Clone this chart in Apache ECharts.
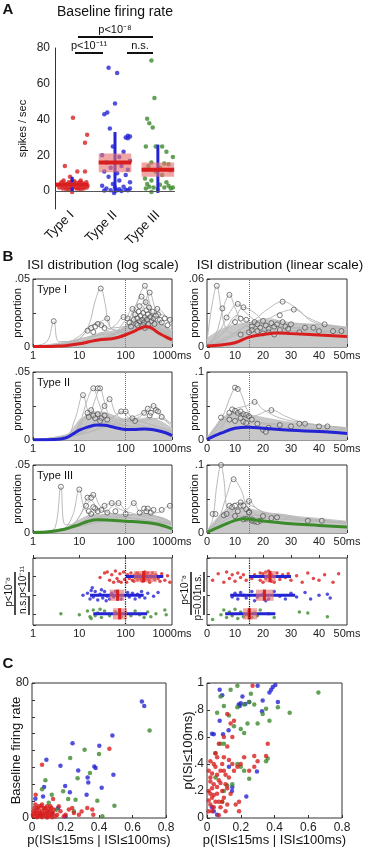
<!DOCTYPE html>
<html>
<head>
<meta charset="utf-8">
<script src="https://cdn.jsdelivr.net/npm/echarts@6/dist/echarts.min.js"></script>
<style>
  html, body { margin: 0; padding: 0; background: #fff; }
  #chart { width: 366px; height: 850px; }
</style>
</head>
<body>
<div id="chart"></div>
<script>
const FONT = '"Liberation Sans", Arial, sans-serif';
const RED = '#d81e1e', BLUE = '#2424d4', GREEN = '#3c8a2c';
const GRAY = '#b9b9b9', BAND = '#c8c8c8', RING = '#4a4a4a';
const BOXFILL = 'rgba(232,112,112,0.62)';

// ---- A: baseline firing rate ----
const typeLabels = ['Type I', 'Type II', 'Type III'];
const rateTypeI = [[1.02,41],[1.35,31.5],[1.3,27],[0.83,14],[1.12,11],[1.3,11],[0.95,8],[1.0,6],[0.75,5],[0.8,4.5],[0.85,3],[0.9,2],[0.92,5],[0.97,3.5],[1.03,2.5],[1.06,4],[1.1,1.5],[1.14,3],[1.18,5],[1.22,2.5],[1.26,3.5],[1.3,4],[1.34,2],[0.78,1.5],[0.82,2.5],[0.88,4],[0.93,1],[0.98,2],[1.05,5.5],[1.08,3],[1.12,2],[1.16,4.5],[1.2,1],[1.24,3],[1.28,2.5],[1.32,3.5],[0.76,3],[0.86,1],[0.9,3.5],[0.96,4.5],[1.0,1.5],[1.04,3.5],[1.1,4.5],[1.15,1.5],[1.19,3.5],[1.23,4.5],[1.27,1.5],[1.33,5],[0.8,6],[1.0,-0.5],[1.2,6],[0.7,2],[0.72,4],[1.36,3]];
const rateTypeII = [[1.85,69],[2.05,66],[2.0,49],[1.75,43],[1.82,44],[1.88,35],[2.3,31],[2.35,30.5],[2.25,30],[2.3,29.5],[1.95,25],[2.2,22],[1.7,20],[2.1,19],[2.35,17],[1.8,16],[2.15,14],[1.9,13],[2.3,12],[1.75,11],[2.05,10],[2.25,9],[1.85,8],[2.1,6],[2.35,5],[1.95,4],[1.7,3],[2.2,2.5],[2.0,2],[2.35,1.5],[1.8,1.5],[2.1,1],[2.25,0.8],[1.9,0.5],[2.3,0.5],[1.75,0.3],[2.05,0.5],[2.15,0],[1.98,-1]];
const rateTypeIII = [[2.85,73],[2.92,52],[2.75,40.5],[2.8,38],[2.88,35.5],[2.95,25],[2.72,25],[3.1,25],[3.2,22],[3.35,19],[2.85,16],[3.15,15.5],[3.25,15],[2.78,14],[3.05,13],[2.7,12],[3.3,11.5],[2.95,11],[3.1,9],[2.7,7],[2.85,6],[3.2,5],[2.75,4],[3.05,3.5],[3.25,3],[2.8,2.5],[3.35,2],[2.9,2],[3.15,2],[3.3,1.5],[2.72,1.5],[3.0,1],[2.85,-0.5]];
// [type, q1, median, q3, whisker low, whisker high]
const rateBoxes = [[1,2.2,3.5,4.8,-0.5,8],[2,10.5,16,21,-1,33],[3,8,12,16,-1,26]];

// ---- B: ISI distributions (log scale) ----
const bandLogI = [[1,0.001],[2,0.002],[3,0.003],[5,0.004],[10,0.006],[20,0.009],[30,0.011],[50,0.012],[70,0.013],[100,0.016],[150,0.019],[200,0.021],[300,0.022],[500,0.019],[700,0.016],[1000,0.013]];
const grayLogI = [
  [[1,0.001],[2,0.004],[2.8,0.019],[3.6,0.004],[6,0.004],[10,0.006],[30,0.009],[100,0.011],[300,0.013],[1000,0.008]],
  [[1,0],[5,0.002],[10,0.006],[16,0.016],[22,0.034],[29,0.043],[36,0.032],[45,0.015],[70,0.012],[150,0.014],[400,0.012],[1000,0.008]],
  [[1,0],[5,0.003],[10,0.008],[18,0.016],[30,0.019],[40,0.021],[50,0.014],[100,0.015],[300,0.016],[1000,0.01]],
  [[1,0],[10,0.003],[40,0.008],[100,0.014],[150,0.025],[210,0.04],[260,0.045],[320,0.034],[450,0.018],[1000,0.008]],
  [[1,0],[10,0.003],[50,0.008],[100,0.016],[160,0.03],[220,0.037],[300,0.028],[500,0.014],[1000,0.007]],
  [[1,0],[10,0.002],[60,0.01],[130,0.018],[220,0.026],[330,0.04],[420,0.03],[600,0.018],[1000,0.01]],
  [[1,0],[10,0.003],[50,0.009],[100,0.02],[140,0.028],[200,0.022],[400,0.015],[1000,0.008]],
  [[1,0],[20,0.005],[100,0.012],[300,0.02],[480,0.028],[650,0.025],[1000,0.014]],
  [[1,0],[20,0.004],[100,0.014],[250,0.022],[500,0.024],[800,0.022],[1000,0.018]],
  [[1,0],[8,0.004],[15,0.012],[25,0.017],[40,0.014],[80,0.012],[200,0.018],[600,0.012],[1000,0.008]],
  [[1,0],[10,0.004],[30,0.01],[60,0.016],[90,0.022],[130,0.02],[300,0.016],[1000,0.01]],
  [[1,0],[30,0.006],[120,0.016],[200,0.03],[270,0.033],[400,0.022],[700,0.014],[1000,0.011]]
];
const ringsLogI = [[2.8,0.019],[29,0.043],[40,0.021],[260,0.045],[220,0.037],[330,0.04],[140,0.028],[480,0.028],[500,0.024],[25,0.017],[90,0.022],[270,0.033],[15,0.012],[18,0.014],[22,0.015],[30,0.016],[35,0.014],[20,0.011],[120,0.018],[150,0.02],[160,0.024],[170,0.017],[180,0.021],[190,0.026],[200,0.019],[210,0.023],[230,0.02],[240,0.025],[250,0.018],[260,0.022],[280,0.027],[290,0.02],[300,0.024],[310,0.017],[340,0.022],[360,0.019],[380,0.026],[400,0.021],[420,0.017],[450,0.023],[550,0.02],[600,0.018],[700,0.021],[800,0.016],[900,0.02],[130,0.015],[110,0.021],[240,0.016],[320,0.029],[200,0.03],[180,0.016],[260,0.014]];
const meanLogI = [[1,0.0003],[2,0.0004],[3,0.0006],[5,0.001],[10,0.0024],[20,0.0045],[30,0.0055],[50,0.006],[70,0.0072],[100,0.009],[150,0.0115],[200,0.0135],[270,0.0148],[350,0.0142],[500,0.0105],[700,0.0078],[1000,0.0052]];

const bandLogII = [[1,0],[3,0.0005],[5,0.003],[7,0.008],[10,0.015],[15,0.019],[20,0.021],[30,0.021],[50,0.019],[70,0.017],[100,0.016],[200,0.016],[300,0.017],[500,0.015],[1000,0.009]];
const grayLogII = [
  [[1,0],[5,0.002],[8,0.015],[12,0.033],[16,0.02],[25,0.014],[60,0.012],[150,0.01],[1000,0.005]],
  [[1,0],[6,0.002],[10,0.012],[15,0.03],[20,0.038],[26,0.028],[40,0.014],[100,0.01],[1000,0.005]],
  [[1,0],[8,0.003],[15,0.014],[22,0.03],[28,0.038],[35,0.028],[50,0.015],[150,0.01],[1000,0.006]],
  [[1,0],[10,0.004],[20,0.012],[35,0.025],[45,0.03],[60,0.02],[100,0.014],[1000,0.006]],
  [[1,0],[10,0.004],[30,0.01],[60,0.018],[80,0.021],[120,0.016],[300,0.012],[1000,0.006]],
  [[1,0],[10,0.004],[40,0.01],[100,0.014],[200,0.017],[300,0.023],[400,0.025],[550,0.018],[1000,0.01]],
  [[1,0],[10,0.005],[30,0.012],[100,0.015],[250,0.02],[450,0.022],[700,0.016],[1000,0.011]],
  [[1,0],[7,0.004],[12,0.015],[18,0.022],[25,0.019],[40,0.016],[100,0.021],[140,0.016],[300,0.012],[1000,0.007]],
  [[1,0],[8,0.006],[15,0.017],[30,0.02],[60,0.015],[200,0.014],[500,0.016],[1000,0.012]]
];
const ringsLogII = [[12,0.033],[20,0.038],[25,0.038],[28,0.038],[45,0.03],[35,0.025],[80,0.021],[100,0.021],[300,0.023],[400,0.025],[450,0.022],[500,0.021],[18,0.022],[16,0.017],[20,0.018],[22,0.016],[25,0.019],[30,0.016],[35,0.018],[40,0.015],[15,0.02],[140,0.016],[160,0.014],[250,0.02],[330,0.018],[350,0.02],[600,0.017],[28,0.014]];
const meanLogII = [[1,0.0002],[3,0.0004],[5,0.0015],[7,0.004],[10,0.0072],[15,0.0095],[25,0.011],[35,0.0108],[50,0.0098],[70,0.0086],[100,0.0078],[150,0.0078],[250,0.0081],[400,0.0075],[700,0.0055],[1000,0.0032]];

const bandLogIII = [[1,0.0005],[2,0.001],[3,0.002],[5,0.004],[7,0.007],[10,0.01],[15,0.013],[20,0.014],[30,0.014],[50,0.014],[100,0.014],[200,0.014],[400,0.013],[700,0.011],[1000,0.008]];
const grayLogIII = [
  [[1,0],[2,0.001],[3,0.004],[4,0.034],[5,0.006],[8,0.006],[15,0.01],[50,0.012],[200,0.01],[1000,0.006]],
  [[1,0],[4,0.002],[7,0.012],[10,0.032],[13,0.018],[20,0.013],[50,0.012],[200,0.01],[1000,0.006]],
  [[1,0],[5,0.003],[10,0.012],[15,0.026],[20,0.028],[28,0.02],[50,0.014],[1000,0.007]],
  [[1,0],[8,0.004],[20,0.014],[40,0.021],[50,0.022],[70,0.018],[200,0.013],[1000,0.007]],
  [[1,0],[10,0.005],[30,0.012],[70,0.022],[100,0.017],[150,0.022],[200,0.016],[500,0.012],[1000,0.008]],
  [[1,0],[10,0.005],[50,0.01],[200,0.014],[500,0.015],[900,0.02],[1000,0.018]],
  [[1,0],[6,0.004],[14,0.02],[18,0.024],[25,0.018],[60,0.014],[300,0.013],[1000,0.007]]
];
const ringsLogIII = [[4,0.034],[10,0.032],[15,0.026],[18,0.026],[20,0.028],[50,0.022],[70,0.022],[150,0.022],[900,0.02],[14,0.02],[16,0.016],[18,0.014],[22,0.018],[25,0.016],[30,0.017],[40,0.015],[60,0.016],[100,0.014],[200,0.015],[250,0.018],[280,0.016],[300,0.018],[350,0.015],[400,0.017],[600,0.017],[20,0.019],[35,0.02]];
const meanLogIII = [[1,0.0003],[2,0.0008],[3,0.0015],[5,0.003],[7,0.0045],[10,0.0062],[15,0.0085],[25,0.0098],[50,0.0093],[100,0.0086],[200,0.0081],[400,0.007],[700,0.005],[1000,0.003]];

// ---- B: ISI distributions (linear scale) ----
const bandLinI = [[0,0.008],[3,0.013],[6,0.017],[10,0.02],[15,0.022],[20,0.024],[25,0.024],[30,0.022],[40,0.02],[50,0.018]];
const grayLinI = [
  [[0,0.005],[2,0.04],[3.5,0.054],[5,0.035],[7,0.015],[10,0.012],[20,0.014],[50,0.012]],
  [[0,0.002],[3,0.01],[6,0.036],[8,0.046],[10,0.035],[13,0.02],[20,0.016],[50,0.013]],
  [[0,0.002],[4,0.012],[8,0.03],[11,0.038],[14,0.03],[20,0.02],[50,0.014]],
  [[0,0.002],[5,0.01],[10,0.025],[13,0.035],[17,0.03],[22,0.02],[50,0.014]],
  [[0,0.001],[5,0.004],[10,0.012],[17,0.024],[22,0.034],[27,0.04],[32,0.034],[38,0.022],[50,0.016]],
  [[0,0.001],[10,0.01],[20,0.022],[26,0.03],[31,0.033],[36,0.026],[42,0.02],[50,0.017]],
  [[0,0.002],[6,0.014],[11,0.028],[15,0.022],[25,0.018],[40,0.017],[50,0.016]],
  [[0,0.001],[8,0.01],[15,0.02],[22,0.025],[30,0.02],[40,0.02],[48,0.018],[50,0.017]]
];
const ringsLinI = [[3.5,0.054],[8,0.046],[11,0.038],[13,0.035],[27,0.04],[31,0.033],[5.5,0.034],[7,0.026],[10,0.022],[12,0.025],[14,0.024],[16,0.018],[17,0.022],[18,0.02],[19,0.017],[20,0.023],[21,0.019],[22,0.016],[23,0.021],[24,0.018],[25,0.02],[26,0.015],[27,0.022],[28,0.018],[29,0.016],[30,0.02],[16,0.015],[18,0.014],[20,0.012],[22,0.013],[24,0.011],[33,0.013],[35,0.017],[40,0.014],[45,0.014],[48,0.014],[42,0.02],[38,0.017],[15,0.013],[12,0.011],[26,0.028]];
const meanLinI = [[0,0.0009],[5,0.0018],[10,0.0037],[15,0.0087],[20,0.011],[25,0.0124],[30,0.0118],[40,0.0105],[50,0.0093]];

const bandLinII = [[0,0.005],[3,0.02],[6,0.035],[10,0.042],[15,0.038],[20,0.034],[30,0.027],[40,0.022],[50,0.018]];
const grayLinII = [
  [[0,0.003],[5,0.03],[9,0.07],[10.5,0.078],[12,0.07],[15,0.04],[20,0.025],[50,0.015]],
  [[0,0.002],[5,0.02],[10,0.045],[14,0.05],[17,0.056],[20,0.045],[28,0.03],[50,0.018]],
  [[0,0.002],[5,0.025],[10,0.04],[16,0.035],[23,0.044],[28,0.035],[35,0.025],[50,0.018]],
  [[0,0.002],[3,0.02],[6,0.033],[10,0.032],[20,0.025],[35,0.023],[43,0.02],[50,0.016]],
  [[0,0.002],[4,0.01],[8,0.035],[11,0.038],[15,0.03],[24,0.02],[50,0.013]]
];
const ringsLinII = [[10,0.077],[11,0.075],[17,0.056],[23,0.044],[5,0.033],[8,0.04],[9,0.045],[10,0.043],[11,0.04],[12,0.042],[13,0.038],[14,0.037],[15,0.035],[16,0.03],[8,0.03],[10,0.028],[12,0.032],[13,0.027],[14,0.025],[18,0.024],[20,0.015],[21,0.012],[33,0.024],[35,0.024],[30,0.02],[40,0.02],[43,0.02],[26,0.022],[22,0.018]];
const meanLinII = [[0,0.001],[5,0.01],[10,0.0173],[15,0.0188],[20,0.0173],[30,0.0144],[40,0.0124],[50,0.0095]];

const bandLinIII = [[0,0.004],[3,0.02],[6,0.032],[10,0.038],[15,0.036],[20,0.032],[30,0.026],[40,0.022],[50,0.018]];
const grayLinIII = [
  [[0,0.002],[2,0.02],[3.5,0.07],[5,0.1],[6,0.08],[7.5,0.03],[10,0.025],[20,0.022],[50,0.014]],
  [[0,0.002],[4,0.02],[7,0.055],[9.5,0.079],[12,0.065],[15,0.035],[20,0.025],[50,0.015]],
  [[0,0.002],[5,0.02],[10,0.035],[15,0.047],[18,0.035],[25,0.025],[50,0.016]],
  [[0,0.003],[5,0.025],[8,0.04],[12,0.045],[16,0.04],[22,0.028],[50,0.016]],
  [[0,0.002],[5,0.015],[10,0.025],[20,0.026],[25,0.028],[35,0.02],[41,0.018],[50,0.014]]
];
const ringsLinIII = [[5,0.1],[9.5,0.079],[15,0.047],[12,0.045],[8,0.04],[9,0.038],[10,0.04],[11,0.032],[12,0.04],[13,0.04],[14,0.035],[15,0.031],[6,0.026],[7,0.028],[2,0.028],[3,0.028],[10,0.025],[13,0.02],[14,0.021],[15,0.03],[16,0.02],[17,0.017],[18,0.016],[19,0.018],[20,0.025],[23,0.022],[25,0.023],[36,0.018],[41,0.018],[16,0.018]];
const meanLinIII = [[0,0.001],[5,0.01],[10,0.0185],[13,0.021],[15,0.0205],[20,0.0175],[30,0.0135],[40,0.0112],[50,0.0088]];

// ---- B: peak ISI per neuron (row 1 = Type I, 2 = Type II, 3 = Type III) ----
const peakLogI = [[35,0.8],[45,1.2],[50,0.9],[55,1.3],[60,0.7],[65,1.1],[70,1.25],[75,0.85],[80,1.3],[90,0.75],[95,1.15],[105,1.3],[110,0.9],[120,1.1],[130,0.8],[140,1.2],[150,0.95],[160,1.05],[170,0.85],[180,1.15],[190,1.0],[200,0.9],[210,1.1],[220,1.2],[230,0.95],[240,1.05],[250,0.85],[260,1.15],[270,1.0],[280,0.9],[300,1.1],[320,1.2],[340,0.95],[360,1.05],[380,0.8],[400,1.0],[420,1.15],[450,0.9],[500,1.1],[550,1.25],[600,0.85],[700,1.2],[800,0.95],[900,1.3],[230,1.25],[260,0.75],[300,0.8],[180,0.8],[150,1.25],[330,1.3],[40,0.75],[28,1.05]];
const peakLogII = [[15,1.9],[17,2.2],[18,1.75],[20,2.1],[22,1.8],[25,2.25],[28,1.95],[32,2.15],[35,1.8],[40,2.05],[45,2.2],[50,1.9],[55,2.1],[60,1.8],[70,2.0],[80,2.2],[110,1.85],[120,2.1],[140,1.9],[160,2.2],[180,1.95],[200,2.1],[220,1.8],[260,2.15],[300,1.9],[400,2.05],[500,1.85],[30,1.7],[38,2.3],[12,2.0],[19,1.6]];
const peakLogIII = [[4,3.0],[10,3.05],[15,2.85],[17,3.15],[20,2.8],[22,3.1],[25,2.95],[30,3.2],[35,2.85],[45,3.1],[60,2.9],[80,3.15],[100,2.95],[130,3.1],[160,2.85],[200,3.05],[250,3.2],[300,2.9],[350,3.15],[450,3.0],[700,2.8],[750,3.05],[18,3.25],[28,2.75]];
const peakLogBoxes = [[1,150,245,470,100,650],[2,45,67,93,17,245],[3,53,74,107,20,290]];

const peakLinI = [[2,1.2],[4,0.85],[6,1.3],[7,0.75],[8,1.1],[9,0.9],[10,1.25],[11,0.8],[12,1.05],[13,0.9],[14,1.2],[16,1.1],[17,0.9],[18,1.0],[19,1.2],[20,0.85],[21,1.1],[22,0.95],[23,1.25],[24,1.0],[25,0.8],[26,1.15],[27,0.9],[28,1.05],[29,0.85],[30,1.2],[32,0.95],[34,1.3],[36,0.8],[38,1.1],[40,1.2],[42,0.9],[45,1.3],[47,0.85],[20,1.3],[22,0.7],[21,0.75],[24,1.3],[19,0.8],[23,0.9]];
const peakLinII = [[9,2.1],[10,1.9],[11,2.2],[12,1.85],[13,2.0],[14,2.15],[16,1.8],[18,2.1],[20,1.95],[22,2.2],[24,1.8],[26,2.05],[28,2.2],[30,1.9],[32,2.1],[35,1.85],[37,2.2],[40,2.0],[43,1.95],[44,2.15],[17,2.3],[21,2.3]];
const peakLinIII = [[2,3.3],[5,3.05],[6,2.8],[7,3.2],[8,2.9],[9,3.1],[10,2.75],[11,3.25],[12,2.9],[13,3.15],[14,3.05],[15,2.85],[16,3.2],[17,2.95],[18,3.1],[19,2.8],[22,3.0],[24,3.2],[33,2.9],[36,2.95],[43,3.15]];
const peakLinBoxes = [[1,20.5,22.5,24.5,15,30],[2,17.5,20.5,23.8,8.3,31.5],[3,12.9,15.1,17.9,6.5,24.4]];

// ---- C: burst index vs firing rate / p(ISI<=100ms) ----
const burstRateI = [[0.01,1],[0.02,3],[0.03,2],[0.04,5],[0.05,1],[0.06,4],[0.07,2],[0.08,6],[0.09,3],[0.1,1],[0.11,4],[0.12,2],[0.13,5],[0.14,1],[0.015,6],[0.025,4],[0.035,1],[0.045,3],[0.055,7],[0.065,2],[0.075,5],[0.085,1],[0.095,4],[0.105,2],[0.115,6],[0.125,3],[0.005,2],[0.02,8],[0.03,6],[0.05,3],[0.06,8],[0.07,6],[0.09,7],[0.1,5],[0.15,2],[0.17,4],[0.2,2],[0.22,5],[0.25,3],[0.03,0.5],[0.06,0.5],[0.09,0.3],[0.12,0.5],[0.01,4],[0.04,7],[0.08,3],[0.11,7],[0.16,7],[0.19,1],[0.24,6],[0.06,31.5],[0.462,41],[0.126,11.2],[0.022,13.8],[0.296,3.9],[0.366,2],[0.28,2],[0.33,6],[0.36,5]];
const burstRateII = [[0.656,69],[0.67,66.4],[0.48,48.9],[0.242,44.3],[0.402,42.8],[0.086,34.5],[0.17,30.9],[0.372,30.5],[0.38,29.6],[0.276,28.2],[0.486,25.6],[0.332,24],[0.336,21],[0.416,18],[0.198,19],[0.072,18.3],[0.226,15.2],[0.02,11.4],[0.326,13.8],[0.156,5.9],[0.066,12.8],[0.05,2],[0.12,3],[0.2,1]];
const burstRateIII = [[0.702,51.8],[0.314,40.4],[0.4,38],[0.228,35.5],[0.08,22.3],[0.06,17.1],[0.346,26.6],[0.272,23.6],[0.186,15.8],[0.26,10.8],[0.492,7.3],[0.39,10.2],[0.118,13.8],[0.216,11.2],[0.146,4.9],[0.42,1],[0.25,4],[0.1,9]];
const burstShortI = [[0.01,0.05],[0.02,0.1],[0.03,0.15],[0.01,0.2],[0.04,0.25],[0.02,0.3],[0.05,0.12],[0.06,0.18],[0.03,0.22],[0.07,0.28],[0.01,0.35],[0.04,0.4],[0.08,0.08],[0.09,0.2],[0.1,0.15],[0.06,0.32],[0.11,0.25],[0.12,0.1],[0.02,0.42],[0.05,0.38],[0.08,0.35],[0.13,0.3],[0.03,0.05],[0.07,0.02],[0.09,0.12],[0.14,0.18],[0.15,0.4],[0.1,0.45],[0.05,0.48],[0.02,0.27],[0.06,0.23],[0.04,0.17],[0.08,0.26],[0.11,0.05],[0.01,0.13],[0.03,0.33],[0.12,0.22],[0.16,0.35],[0.17,0.1],[0.19,0.12],[0.2,0.4],[0.22,0.45],[0.25,0.35],[0.28,0.46],[0.35,0.46],[0.36,0.55],[0.28,0.38],[0.3,0.42],[0.07,0.55],[0.1,0.6],[0.12,0.77],[0.14,0.7],[0.15,0.6],[0.12,0.53],[0.16,0.72],[0.06,0.45],[0.09,0.4],[0.13,0.43],[0.11,0.32],[0.04,0.08],[0.19,0.05],[0.27,0.98],[0.18,0.38],[0.02,0.18],[0.07,0.12],[0.1,0.35]];
const burstShortII = [[0.075,0.72],[0.03,0.625],[0.04,0.62],[0.095,0.62],[0.128,0.65],[0.075,0.95],[0.09,0.91],[0.188,0.84],[0.2,0.85],[0.227,0.845],[0.326,0.79],[0.33,0.87],[0.37,0.93],[0.38,0.95],[0.39,0.97],[0.405,0.985],[0.25,0.86],[0.194,0.83],[0.296,0.345],[0.233,0.16],[0.148,0.2],[0.15,0.23],[0.06,0.025],[0.04,0.05],[0.13,0.38],[0.03,0.08],[0.42,0.86],[0.21,0.9],[0.3,0.98]];
const burstShortIII = [[0.05,0.48],[0.08,0.55],[0.1,0.55],[0.06,0.78],[0.1,0.83],[0.13,0.76],[0.16,0.68],[0.18,0.82],[0.22,0.84],[0.25,0.86],[0.28,0.84],[0.33,0.77],[0.35,0.81],[0.37,0.72],[0.42,0.82],[0.49,0.78],[0.66,0.93],[0.22,0.63],[0.2,0.66],[0.24,0.7],[0.3,0.7],[0.35,0.42],[0.36,0.44],[0.22,0.35],[0.25,0.29],[0.18,0.4],[0.15,0.25],[0.12,0.24],[0.1,0.2],[0.05,0.3],[0.09,0.12],[0.2,0.38],[0.08,0.9],[0.14,0.95],[0.18,0.98],[0.26,0.92]];

// ---------------------------------------------------------------
const grids = [], xAxes = [], yAxes = [], series = [], graphics = [];
const tickStyle = { inside: true, length: 3, lineStyle: { color: '#333' } };
const labelStyle = { fontFamily: FONT, fontSize: 11, color: '#222' };

function addGrid(g, xa, ya) {
  const gi = grids.length;
  grids.push(Object.assign({ outerBoundsMode: 'none', containLabel: false }, g));
  xAxes.push(Object.assign({ gridIndex: gi, splitLine: { show: false }, nameMoveOverlap: false }, xa));
  yAxes.push(Object.assign({ gridIndex: gi, splitLine: { show: false }, nameMoveOverlap: false }, ya));
  return gi;
}
function txt(x, y, text, size, extra) {
  graphics.push(Object.assign({ type: 'text', x, y, silent: true,
    style: Object.assign({ text, fontFamily: FONT, fontSize: size, fill: '#111', textAlign: 'center', textVerticalAlign: 'middle' }, (extra || {}).style || {}) },
    extra && extra.rotation ? { rotation: extra.rotation } : {}));
}
function bar(x1, y1, x2, y2, w) {
  graphics.push({ type: 'line', silent: true, shape: { x1, y1, x2, y2 }, style: { stroke: '#111', lineWidth: w || 2 } });
}
function boxRenderer(horizontal, half) {
  return function (params, api) {
    const p = api.value(0);
    const pt = (v, off) => horizontal ? api.coord([v, p + off]) : api.coord([p + off, v]);
    const a = pt(api.value(1), -half), b = pt(api.value(3), half);
    const w1 = pt(api.value(4), 0), w2 = pt(api.value(5), 0);
    const m1 = pt(api.value(2), -half), m2 = pt(api.value(2), half);
    return { type: 'group', children: [
      { type: 'line', shape: { x1: w1[0], y1: w1[1], x2: w2[0], y2: w2[1] }, style: { stroke: BLUE, lineWidth: 3 } },
      { type: 'rect', shape: { x: Math.min(a[0], b[0]), y: Math.min(a[1], b[1]), width: Math.abs(b[0] - a[0]), height: Math.abs(b[1] - a[1]) }, style: { fill: BOXFILL } },
      { type: 'line', shape: { x1: m1[0], y1: m1[1], x2: m2[0], y2: m2[1] }, style: { stroke: RED, lineWidth: horizontal ? 3 : 4 } }
    ] };
  };
}
function dots(gi, data, color, size, z) {
  series.push({ type: 'scatter', xAxisIndex: gi, yAxisIndex: gi, data, symbolSize: size, silent: true,
    itemStyle: { color }, z: z || 2 });
}

// ---- panel A ----
const gA = addGrid({ left: 55, top: 48, width: 120, height: 161 },
  { type: 'value', min: 0.6, max: 3.4, interval: 0.2, axisLine: { show: false }, axisTick: { show: false },
    axisLabel: { interval: 0, rotate: 45, margin: 4, fontFamily: FONT, fontSize: 13, color: '#111',
      formatter: v => { const i = Math.round(v); return Math.abs(v - i) < 1e-6 && i >= 1 && i <= 3 ? typeLabels[i - 1] : ''; } } },
  { type: 'value', min: -10, max: 80, interval: 10, axisLine: { show: true, lineStyle: { color: '#333' } }, axisTick: { show: false },
    axisLabel: Object.assign({}, labelStyle, { fontSize: 12, margin: 5, formatter: v => (v >= 0 && v % 20 === 0) ? String(v) : '' }),
    name: 'spikes / sec', nameLocation: 'middle', nameGap: 27, nameTextStyle: { fontFamily: FONT, fontSize: 11, color: '#111' } });
dots(gA, rateTypeI, RED, 4.5);
dots(gA, rateTypeII, BLUE, 4.5);
dots(gA, rateTypeIII, GREEN, 4.5);
series.push({ type: 'custom', xAxisIndex: gA, yAxisIndex: gA, data: rateBoxes, encode: { x: 0, y: [1, 2, 3, 4, 5] },
  renderItem: boxRenderer(false, 0.38), z: 3, silent: true,
  markLine: { silent: true, symbol: ['none', 'none'], label: { show: false }, lineStyle: { color: '#555', width: 1, type: 'solid' }, data: [{ yAxis: 0 }] } });

txt(8, 10, 'A', 15, { style: { fontWeight: 'bold' } });
txt(115, 12, 'Baseline firing rate', 14);
txt(115, 30, 'p<10⁻⁸', 11); bar(78, 37, 153, 37);
txt(89, 46, 'p<10⁻¹¹', 11); bar(75, 53, 103, 53);
txt(140, 46, 'n.s.', 11); bar(127, 53, 153, 53);

// ---- panel B ----
const rowTops = [279, 372, 465, 558];
function logAxis() {
  return { type: 'log', logBase: 10, min: 1, max: 1000, axisLine: { show: false }, axisTick: tickStyle,
    axisLabel: Object.assign({}, labelStyle, { margin: 3, formatter: v => Math.round(v) >= 1000 ? '1000ms' : String(Math.round(v)) }) };
}
function linAxis() {
  return { type: 'value', min: 0, max: 50, interval: 10, axisLine: { show: false }, axisTick: tickStyle,
    axisLabel: Object.assign({}, labelStyle, { margin: 3, formatter: v => v === 50 ? '50ms' : String(v) }) };
}
function propAxis(max, top, gap) {
  return { type: 'value', min: 0, max, interval: max / 2, axisLine: { show: false }, axisTick: tickStyle,
    axisLabel: Object.assign({}, labelStyle, { margin: 3, formatter: v => v === 0 ? '0' : (Math.abs(v - max) < 1e-9 ? top : '') }),
    name: 'proportion', nameLocation: 'middle', nameGap: gap, nameTextStyle: { fontFamily: FONT, fontSize: 11, color: '#111' } };
}
const frame = { show: true, borderColor: '#333', borderWidth: 1, backgroundColor: 'rgba(0,0,0,0)' };

const isiPanels = [
  { log: true, row: 0, max: 0.05, top: '.05', band: bandLogI, lines: grayLogI, rings: ringsLogI, mean: meanLogI, color: RED },
  { log: true, row: 1, max: 0.05, top: '.05', band: bandLogII, lines: grayLogII, rings: ringsLogII, mean: meanLogII, color: BLUE },
  { log: true, row: 2, max: 0.05, top: '.05', band: bandLogIII, lines: grayLogIII, rings: ringsLogIII, mean: meanLogIII, color: GREEN },
  { log: false, row: 0, max: 0.06, top: '.06', band: bandLinI, lines: grayLinI, rings: ringsLinI, mean: meanLinI, color: RED },
  { log: false, row: 1, max: 0.1, top: '.1', band: bandLinII, lines: grayLinII, rings: ringsLinII, mean: meanLinII, color: BLUE },
  { log: false, row: 2, max: 0.1, top: '.1', band: bandLinIII, lines: grayLinIII, rings: ringsLinIII, mean: meanLinIII, color: GREEN }
];
isiPanels.forEach(p => {
  const gi = addGrid(Object.assign({ left: p.log ? 33 : 207, width: p.log ? 139 : 140, top: rowTops[p.row], height: 68 }, frame),
    p.log ? logAxis() : linAxis(), propAxis(p.max, p.top, p.log ? 10 : 7));
  series.push({ type: 'line', xAxisIndex: gi, yAxisIndex: gi, data: p.band, smooth: 0.35, symbol: 'none', silent: true,
    lineStyle: { width: 0, opacity: 0 }, areaStyle: { color: BAND, opacity: 1 }, z: 1,
    markLine: { silent: true, symbol: ['none', 'none'], label: { show: false }, lineStyle: { color: '#777', width: 1, type: 'dotted' },
      data: [{ xAxis: p.log ? 100 : 15 }] } });
  p.lines.forEach(l => series.push({ type: 'line', xAxisIndex: gi, yAxisIndex: gi, data: l, smooth: 0.4, symbol: 'none', silent: true,
    lineStyle: { color: GRAY, width: 1 }, z: 2 }));
  series.push({ type: 'scatter', xAxisIndex: gi, yAxisIndex: gi, data: p.rings, symbol: 'circle', symbolSize: 5, silent: true,
    itemStyle: { color: 'rgba(255,255,255,0.25)', borderColor: RING, borderWidth: 0.9 }, z: 4 });
  series.push({ type: 'line', xAxisIndex: gi, yAxisIndex: gi, data: p.mean, smooth: 0.4, symbol: 'none', silent: true,
    lineStyle: { color: p.color, width: 3 }, z: 5 });
});
['Type I', 'Type II', 'Type III'].forEach((t, i) => txt(37, rowTops[i] + 11, t, 11, { style: { textAlign: 'left' } }));

const peakPanels = [
  { log: true, pts: [peakLogI, peakLogII, peakLogIII], boxes: peakLogBoxes },
  { log: false, pts: [peakLinI, peakLinII, peakLinIII], boxes: peakLinBoxes }
];
peakPanels.forEach(p => {
  const gi = addGrid(Object.assign({ left: p.log ? 33 : 207, width: p.log ? 139 : 140, top: rowTops[3], height: 67 }, frame),
    p.log ? logAxis() : linAxis(),
    { type: 'value', min: 0, max: 3.6, interval: 1, inverse: true, axisLine: { show: false }, axisTick: tickStyle, axisLabel: { show: false } });
  [RED, BLUE, GREEN].forEach((c, i) => dots(gi, p.pts[i], c, 3.5, 2));
  series.push({ type: 'custom', xAxisIndex: gi, yAxisIndex: gi, data: p.boxes, encode: { y: 0, x: [1, 2, 3, 4, 5] },
    renderItem: boxRenderer(true, 0.3), z: 3, silent: true,
    markLine: { silent: true, symbol: ['none', 'none'], label: { show: false }, lineStyle: { color: '#111', width: 1.2, type: 'dotted' },
      data: [{ xAxis: p.log ? 100 : 15 }] } });
});

txt(8, 257, 'B', 15, { style: { fontWeight: 'bold' } });
txt(103, 265, 'ISI distribution (log scale)', 13.5);
txt(280, 265, 'ISI distribution (linear scale)', 13.5);
const R90 = Math.PI / 2;
txt(9, 592, 'p<10⁻⁸', 10, { rotation: R90 });
bar(15, 572, 15, 615, 1.5);
txt(23, 606, 'n.s.', 10, { rotation: R90 });
txt(23, 582, 'p<10⁻¹¹', 10, { rotation: R90 });
bar(29, 572, 29, 592, 1.5); bar(29, 596, 29, 615, 1.5);
txt(185, 590, 'p<10⁻⁸', 10, { rotation: R90 });
bar(191, 572, 191, 615, 1.5);
txt(198, 605, 'p=0.01', 10, { rotation: R90 });
txt(198, 582, 'n.s.', 10, { rotation: R90 });
bar(204, 572, 204, 592, 1.5); bar(204, 596, 204, 615, 1.5);

// ---- panel C ----
function burstX() {
  return { type: 'value', min: 0, max: 0.8, interval: 0.2, axisLine: { show: false }, axisTick: tickStyle,
    axisLabel: Object.assign({}, labelStyle, { fontSize: 12, margin: 4, formatter: v => v === 0 ? '0' : v.toFixed(1) }),
    name: 'p(ISI≤15ms | ISI≤100ms)', nameLocation: 'middle', nameGap: 16, nameTextStyle: { fontFamily: FONT, fontSize: 13, color: '#111' } };
}
const gC1 = addGrid(Object.assign({ left: 32, top: 683, width: 134, height: 135 }, frame), burstX(),
  { type: 'value', min: 0, max: 80, interval: 10, axisLine: { show: false }, axisTick: tickStyle,
    axisLabel: Object.assign({}, labelStyle, { fontSize: 12, margin: 3, formatter: v => (v === 0 || v === 80) ? String(v) : '' }),
    name: 'Baseline firing rate', nameLocation: 'middle', nameGap: 9, nameTextStyle: { fontFamily: FONT, fontSize: 13, color: '#111' } });
const gC2 = addGrid(Object.assign({ left: 207, top: 683, width: 135, height: 135 }, frame), burstX(),
  { type: 'value', min: 0, max: 1, interval: 0.2, axisLine: { show: false }, axisTick: tickStyle,
    axisLabel: Object.assign({}, labelStyle, { fontSize: 12, margin: 3, formatter: v => v === 0 ? '0' : (v >= 1 ? '1' : v.toFixed(1).replace(/^0/, '')) }),
    name: 'p(ISI≤100ms)', nameLocation: 'middle', nameGap: 12, nameTextStyle: { fontFamily: FONT, fontSize: 13, color: '#111' } });
dots(gC1, burstRateII, BLUE, 4.5); dots(gC1, burstRateIII, GREEN, 4.5); dots(gC1, burstRateI, RED, 4.5, 3);
dots(gC2, burstShortII, BLUE, 4.5); dots(gC2, burstShortIII, GREEN, 4.5); dots(gC2, burstShortI, RED, 4.5, 3);
txt(8, 664, 'C', 15, { style: { fontWeight: 'bold' } });

const myChart = echarts.init(document.getElementById('chart'), null, { renderer: 'canvas' });
myChart.setOption({
  animation: false,
  backgroundColor: '#fff',
  textStyle: { fontFamily: FONT },
  grid: grids,
  xAxis: xAxes,
  yAxis: yAxes,
  series: series,
  graphic: { elements: graphics }
});
</script>
</body>
</html>
